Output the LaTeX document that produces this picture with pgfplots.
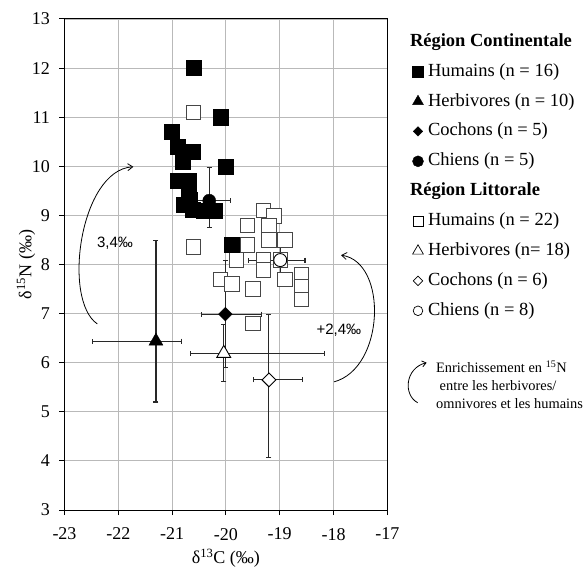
\documentclass[border=0pt]{standalone}
\usepackage{fontspec}
\setmainfont{Liberation Serif}
\newfontfamily\arial{Liberation Sans}
\usepackage{pgfplots}
\pgfplotsset{compat=1.18}
\usetikzlibrary{calc,arrows.meta}

\definecolor{gridgray}{RGB}{185,185,185}
\definecolor{edgegray}{RGB}{70,70,70}
\definecolor{barcol}{RGB}{40,40,40}

\begin{document}
\begin{tikzpicture}
\begin{axis}[
  name=ax, at={(0,0)}, anchor=south west,
  scale only axis, width=322.8pt, height=491pt,
  xmin=-23, xmax=-17, ymin=3, ymax=13,
  xtick={-23,-22,...,-17}, ytick={3,4,...,13},
  xticklabels={-23,-22,-21,-20,-19,-18,-17},
  yticklabels={3,4,5,6,7,8,9,10,11,12,13},
  grid=major, major grid style={gridgray, line width=0.9pt},
  axis line style={black, line width=1pt},
  tick align=outside, tick pos=left, major tick length=5pt,
  tick style={black, line width=1pt},
  tick label style={font=\fontsize{18}{20}\selectfont},
  xticklabel style={yshift=-9.5pt},
  yticklabel style={xshift=-6pt},
  label style={font=\fontsize{18}{20}\selectfont},
  xlabel={δ\textsuperscript{13}C (‰)},
  ylabel={δ\textsuperscript{15}N (‰)},
  xlabel style={at={(axis description cs:0.5,0)}, anchor=center, yshift=-48pt},
  ylabel style={at={(axis description cs:-0.1193,0.5)}, anchor=center},
  clip=false,
  legend cell align=left,
  legend image code/.code={\draw[#1, mark repeat=1] plot coordinates {(0pt,0pt)};},
  legend style={draw=none, fill=none, at={(1,1)}, anchor=north west,
    xshift=25pt, yshift=-14pt, font=\fontsize{18.5}{20}\selectfont,
    inner sep=0pt, row sep=12.9pt, column sep=4.5pt,
    nodes={inner sep=0pt, text height=13pt, text depth=4pt}},
  meanbars/.style={only marks, forget plot,
    error bars/x dir=both, error bars/y dir=both,
    error bars/x explicit, error bars/y explicit,
    error bars/error bar style={barcol, line width=1.1pt},
    error bars/error mark options={rotate=90, barcol, mark size=2.5pt, line width=1.1pt}},
]

% littoral humans
\addplot[only marks, mark=square*, mark size=7.2pt,
  mark options={fill=white, draw=edgegray, line width=0.9pt}, forget plot]
coordinates {
(-20.60,11.10) (-20.60,8.36) (-19.30,9.10) (-19.11,8.99) (-19.60,8.79)
(-19.20,8.79) (-19.20,8.50) (-18.90,8.50) (-19.60,8.40) (-19.80,8.09)
(-19.30,8.09) (-19.30,7.89) (-18.99,8.09) (-20.10,7.70) (-19.89,7.60)
(-18.90,7.70) (-18.60,7.80) (-18.60,7.55) (-18.60,7.29) (-19.50,7.50)
(-19.50,6.80)
};

% continental humans
\addplot[only marks, mark=square*, mark size=7.5pt,
  mark options={fill=black, draw=black}, forget plot]
coordinates {
(-20.60,12.00) (-20.10,11.00) (-21.00,10.70) (-20.89,10.40) (-20.61,10.30)
(-20.80,10.09) (-20.00,10.00) (-19.89,8.40) (-20.90,9.71) (-20.70,9.71)
(-20.70,9.48) (-20.67,9.31) (-20.79,9.21) (-20.61,9.11) (-20.42,9.10)
(-20.20,9.10)
};

% continental means
\addplot[meanbars, mark=triangle*, mark size=8pt, mark options={fill=black, draw=black}]
coordinates {(-21.30,6.44) += (0.48,2.04) -= (1.18,1.24)};
\addplot[meanbars, mark=square*, mark size=4.8pt, mark options={rotate=45, fill=black, draw=black}]
coordinates {(-20.01,6.99) += (0.67,1.09) -= (0.44,1.09)};
\addplot[meanbars, mark=*, mark size=6.5pt, mark options={fill=black, draw=black}]
coordinates {(-20.31,9.30) += (0.39,0.68) -= (0.39,0.55)};

% littoral means
\addplot[meanbars, mark=triangle*, mark size=8pt, mark options={fill=white, draw=black, line width=0.9pt}]
coordinates {(-20.04,6.19) += (1.87,0.58) -= (0.61,0.58)};
\addplot[meanbars, mark=square*, mark size=4.9pt, mark options={rotate=45, fill=white, draw=black, line width=0.9pt}]
coordinates {(-19.20,5.65) += (0.63,1.34) -= (0.29,1.58)};
\addplot[meanbars, mark=*, mark size=6.5pt, mark options={fill=white, draw=black, line width=0.9pt}]
coordinates {(-18.99,8.09) += (0.46,0.54) -= (0.59,0.54)};

% legend
\addlegendimage{empty legend}
\addlegendentry{\hspace{-18pt}\textbf{Région Continentale}}
\addlegendimage{only marks, mark=square*, mark size=5.5pt, mark options={fill=black, draw=black}}
\addlegendentry{Humains (n = 16)}
\addlegendimage{only marks, mark=triangle*, mark size=6.3pt, mark options={fill=black, draw=black}}
\addlegendentry{Herbivores (n = 10)}
\addlegendimage{only marks, mark=square*, mark size=3.3pt, mark options={rotate=45, fill=black, draw=black}}
\addlegendentry{Cochons (n = 5)}
\addlegendimage{only marks, mark=*, mark size=5.5pt, mark options={fill=black, draw=black}}
\addlegendentry{Chiens (n = 5)}
\addlegendimage{empty legend}
\addlegendentry{\hspace{-18pt}\textbf{Région Littorale}}
\addlegendimage{only marks, mark=square*, mark size=5pt, mark options={fill=white, draw=black, line width=0.7pt}}
\addlegendentry{Humains (n = 22)}
\addlegendimage{only marks, mark=triangle*, mark size=6.2pt, mark options={fill=white, draw=black, line width=0.7pt}}
\addlegendentry{Herbivores (n= 18)}
\addlegendimage{only marks, mark=square*, mark size=3.3pt, mark options={rotate=45, fill=white, draw=black, line width=0.7pt}}
\addlegendentry{Cochons (n = 6)}
\addlegendimage{only marks, mark=*, mark size=4.8pt, mark options={fill=white, draw=black, line width=0.7pt}}
\addlegendentry{Chiens (n = 8)}

% enrichment arrows and notes
\draw[line width=0.8pt, -{Straight Barb[length=5pt, width=7pt]}]
  (axis cs:-22.39,6.79) .. controls (axis cs:-23.046,7.277) and (axis cs:-22.712,9.925) .. (axis cs:-21.72,9.99);
\draw[line width=0.8pt, -{Straight Barb[length=5pt, width=7pt]}]
  (axis cs:-17.99,5.61) .. controls (axis cs:-17.043,5.892) and (axis cs:-16.987,8.051) .. (axis cs:-17.86,8.19);
\node[font=\arial\fontsize{15}{15}\selectfont] at (axis cs:-22.06,8.43) {3,4‰};
\node[font=\arial\fontsize{15}{15}\selectfont] at (axis cs:-17.90,6.67) {+2,4‰};

\draw[line width=0.8pt, -{Straight Barb[length=4pt, width=6pt]}]
  (axis cs:-16.435,5.185) .. controls (axis cs:-16.708,5.342) and (axis cs:-16.671,5.892) .. (axis cs:-16.268,6.0);
\node[anchor=west, align=left, inner sep=0pt, font=\fontsize{14.4}{18}\selectfont]
  at (axis cs:-16.095,5.556)
  {Enrichissement en \textsuperscript{15}N\\\hspace*{3.5pt}entre les herbivores/\\omnivores et les humains};
\end{axis}
\pgfresetboundingbox
\path ($(ax.south west)+(-64.5pt,-58pt)$) rectangle ($(ax.north east)+(196.7pt,19pt)$);
\end{tikzpicture}
\end{document}
